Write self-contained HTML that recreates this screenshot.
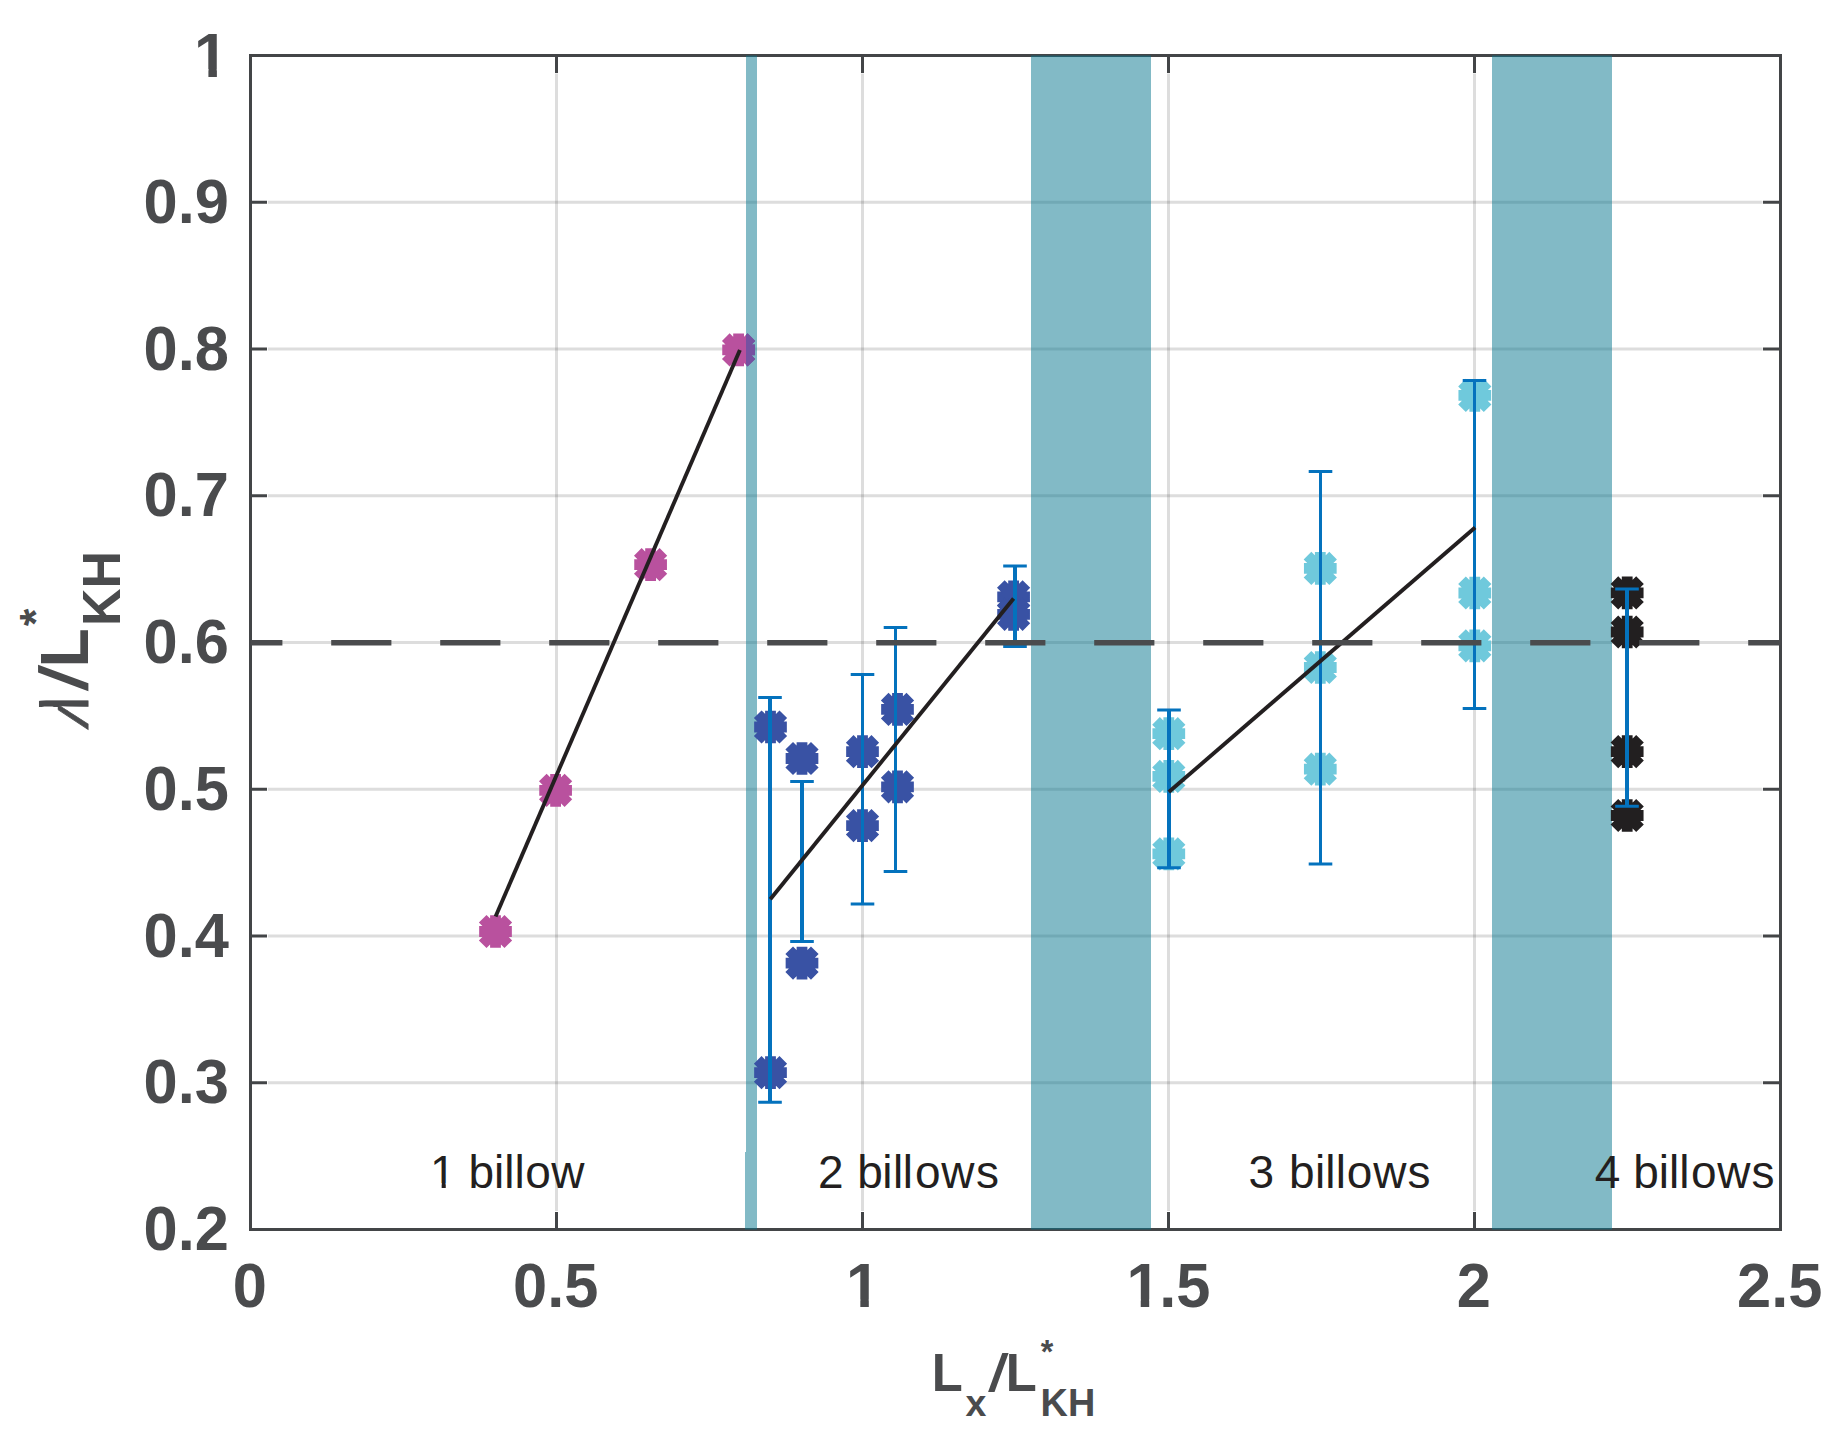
<!DOCTYPE html>
<html lang="en"><head><meta charset="utf-8"><title>Billow wavelength vs domain length</title>
<style>
html,body{margin:0;padding:0;background:#fff;}
body{width:1836px;height:1446px;overflow:hidden;}
svg{display:block;}
</style></head><body>
<svg width="1836" height="1446" viewBox="0 0 1836 1446" role="img" aria-label="Billow wavelength versus domain length">
<rect width="1836" height="1446" fill="#fff"/>
<defs>
<clipPath id="b1"><rect x="746" y="300" width="11" height="100"/></clipPath>
<clipPath id="c1"><path d="M-2 -41.40H25.07V-4.65H-2ZM11.55 -5.65H15.64V2H11.55ZM25.07 -41.40H230.00V13.80H25.07Z"/></clipPath>
<clipPath id="c2"><path d="M-2 -55.26H33.46V-7.46H-2ZM14.31 -8.46H22.78V2H14.31ZM33.46 -55.26H307.00V18.42H33.46Z"/></clipPath>
<clipPath id="lc"><path d="M-5 5H40V-30H-5ZM24.0 -30H40V-48.9H24.0Z"/></clipPath>
</defs>
<g stroke="#242424" stroke-opacity="0.155" stroke-width="3" fill="none">
<line x1="556.5" y1="73.6" x2="556.5" y2="1210.9"/>
<line x1="862.5" y1="73.6" x2="862.5" y2="1210.9"/>
<line x1="1168.5" y1="73.6" x2="1168.5" y2="1210.9"/>
<line x1="1474.5" y1="73.6" x2="1474.5" y2="1210.9"/>
<line x1="267.9" y1="202.25" x2="1761.9" y2="202.25"/>
<line x1="267.9" y1="349.00" x2="1761.9" y2="349.00"/>
<line x1="267.9" y1="495.75" x2="1761.9" y2="495.75"/>
<line x1="267.9" y1="642.50" x2="1761.9" y2="642.50"/>
<line x1="267.9" y1="789.25" x2="1761.9" y2="789.25"/>
<line x1="267.9" y1="936.00" x2="1761.9" y2="936.00"/>
<line x1="267.9" y1="1082.75" x2="1761.9" y2="1082.75"/>
</g>
<g stroke="#434547" stroke-width="3" fill="none" stroke-linecap="butt">
<rect x="250.5" y="55.5" width="1530.0" height="1174.0"/>
<path d="M556.5 1229.5V1212.1M556.5 55.5V72.9"/>
<path d="M862.5 1229.5V1212.1M862.5 55.5V72.9"/>
<path d="M1168.5 1229.5V1212.1M1168.5 55.5V72.9"/>
<path d="M1474.5 1229.5V1212.1M1474.5 55.5V72.9"/>
<path d="M250.5 202.25H267.0M1780.5 202.25H1762.9"/>
<path d="M250.5 349.00H267.0M1780.5 349.00H1762.9"/>
<path d="M250.5 495.75H267.0M1780.5 495.75H1762.9"/>
<path d="M250.5 642.50H267.0M1780.5 642.50H1762.9"/>
<path d="M250.5 789.25H267.0M1780.5 789.25H1762.9"/>
<path d="M250.5 936.00H267.0M1780.5 936.00H1762.9"/>
<path d="M250.5 1082.75H267.0M1780.5 1082.75H1762.9"/>
</g>
<g stroke="#b9519e" stroke-width="10.8" fill="none" stroke-linecap="butt">
<path d="M479.15 931.50h32.70M495.50 915.15v32.70M482.70 918.70l25.60 25.60M482.70 944.30l25.60 -25.60"/>
<path d="M539.25 790.30h32.70M555.60 773.95v32.70M542.80 777.50l25.60 25.60M542.80 803.10l25.60 -25.60"/>
<path d="M634.25 564.70h32.70M650.60 548.35v32.70M637.80 551.90l25.60 25.60M637.80 577.50l25.60 -25.60"/>
<path d="M722.25 349.90h32.70M738.60 333.55v32.70M725.80 337.10l25.60 25.60M725.80 362.70l25.60 -25.60"/>
</g>
<g fill="#05758d" fill-opacity="0.5">
<path d="M746 55.5H757V1229.5H745V1152H746Z"/>
<rect x="1031" y="55.5" width="120" height="1174"/>
<rect x="1492" y="55.5" width="120" height="1174"/>
</g>
<g stroke="#7651a1" stroke-width="10.8" fill="none" stroke-linecap="butt" clip-path="url(#b1)">
<path d="M722.25 349.90h32.70M738.60 333.55v32.70M725.80 337.10l25.60 25.60M725.80 362.70l25.60 -25.60"/>
</g>
<g stroke="#3952a4" stroke-width="10.8" fill="none" stroke-linecap="butt">
<path d="M754.15 727.00h32.70M770.50 710.65v32.70M757.70 714.20l25.60 25.60M757.70 739.80l25.60 -25.60"/>
<path d="M754.15 1072.70h32.70M770.50 1056.35v32.70M757.70 1059.90l25.60 25.60M757.70 1085.50l25.60 -25.60"/>
<path d="M785.65 758.50h32.70M802.00 742.15v32.70M789.20 745.70l25.60 25.60M789.20 771.30l25.60 -25.60"/>
<path d="M785.65 963.10h32.70M802.00 946.75v32.70M789.20 950.30l25.60 25.60M789.20 975.90l25.60 -25.60"/>
<path d="M846.15 751.70h32.70M862.50 735.35v32.70M849.70 738.90l25.60 25.60M849.70 764.50l25.60 -25.60"/>
<path d="M846.15 825.60h32.70M862.50 809.25v32.70M849.70 812.80l25.60 25.60M849.70 838.40l25.60 -25.60"/>
<path d="M881.15 709.40h32.70M897.50 693.05v32.70M884.70 696.60l25.60 25.60M884.70 722.20l25.60 -25.60"/>
<path d="M881.15 786.80h32.70M897.50 770.45v32.70M884.70 774.00l25.60 25.60M884.70 799.60l25.60 -25.60"/>
<path d="M997.25 596.80h32.70M1013.60 580.45v32.70M1000.80 584.00l25.60 25.60M1000.80 609.60l25.60 -25.60"/>
<path d="M997.25 614.30h32.70M1013.60 597.95v32.70M1000.80 601.50l25.60 25.60M1000.80 627.10l25.60 -25.60"/>
</g>
<g stroke="#6fc9dc" stroke-width="10.8" fill="none" stroke-linecap="butt">
<path d="M1152.45 733.70h32.70M1168.80 717.35v32.70M1156.00 720.90l25.60 25.60M1156.00 746.50l25.60 -25.60"/>
<path d="M1152.45 776.40h32.70M1168.80 760.05v32.70M1156.00 763.60l25.60 25.60M1156.00 789.20l25.60 -25.60"/>
<path d="M1152.45 853.80h32.70M1168.80 837.45v32.70M1156.00 841.00l25.60 25.60M1156.00 866.60l25.60 -25.60"/>
<path d="M1303.95 568.40h32.70M1320.30 552.05v32.70M1307.50 555.60l25.60 25.60M1307.50 581.20l25.60 -25.60"/>
<path d="M1303.95 667.50h32.70M1320.30 651.15v32.70M1307.50 654.70l25.60 25.60M1307.50 680.30l25.60 -25.60"/>
<path d="M1303.95 769.20h32.70M1320.30 752.85v32.70M1307.50 756.40l25.60 25.60M1307.50 782.00l25.60 -25.60"/>
<path d="M1458.45 395.40h32.70M1474.80 379.05v32.70M1462.00 382.60l25.60 25.60M1462.00 408.20l25.60 -25.60"/>
<path d="M1458.45 593.00h32.70M1474.80 576.65v32.70M1462.00 580.20l25.60 25.60M1462.00 605.80l25.60 -25.60"/>
<path d="M1458.45 645.80h32.70M1474.80 629.45v32.70M1462.00 633.00l25.60 25.60M1462.00 658.60l25.60 -25.60"/>
</g>
<g stroke="#221f20" stroke-width="10.8" fill="none" stroke-linecap="butt">
<path d="M1610.85 592.90h32.70M1627.20 576.55v32.70M1614.40 580.10l25.60 25.60M1614.40 605.70l25.60 -25.60"/>
<path d="M1610.85 632.00h32.70M1627.20 615.65v32.70M1614.40 619.20l25.60 25.60M1614.40 644.80l25.60 -25.60"/>
<path d="M1610.85 751.60h32.70M1627.20 735.25v32.70M1614.40 738.80l25.60 25.60M1614.40 764.40l25.60 -25.60"/>
<path d="M1610.85 815.50h32.70M1627.20 799.15v32.70M1614.40 802.70l25.60 25.60M1614.40 828.30l25.60 -25.60"/>
</g>
<g stroke="#0472bd" stroke-width="3" fill="none" stroke-linecap="butt">
<path d="M770.0 697.5V1102.2" stroke-width="4"/>
<path d="M758.2 697.5H781.8M758.2 1102.2H781.8"/>
<path d="M802.0 781.5V941.4" stroke-width="4"/>
<path d="M790.2 781.5H813.8M790.2 941.4H813.8"/>
<path d="M862.5 674.5V904.0" stroke-width="3"/>
<path d="M850.7 674.5H874.3M850.7 904.0H874.3"/>
<path d="M895.5 627.6V871.5" stroke-width="3"/>
<path d="M883.7 627.6H907.3M883.7 871.5H907.3"/>
<path d="M1015.0 566.0V646.4" stroke-width="4"/>
<path d="M1003.2 566.0H1026.8M1003.2 646.4H1026.8"/>
<path d="M1169.0 710.0V867.7" stroke-width="4"/>
<path d="M1157.2 710.0H1180.8M1157.2 867.7H1180.8"/>
<path d="M1320.5 471.4V864.0" stroke-width="3"/>
<path d="M1308.7 471.4H1332.3M1308.7 864.0H1332.3"/>
<path d="M1474.5 380.4V708.5" stroke-width="3"/>
<path d="M1462.7 380.4H1486.3M1462.7 708.5H1486.3"/>
<path d="M1627.0 588.9V806.2" stroke-width="4"/>
<path d="M1615.2 588.9H1638.8M1615.2 806.2H1638.8"/>
</g>
<g stroke="#231f20" stroke-width="3.9" fill="none" stroke-linecap="butt">
<line x1="495.6" y1="916.5" x2="739.9" y2="350.1"/>
<line x1="770.3" y1="899.2" x2="1013.6" y2="598.6"/>
<line x1="1168.8" y1="792.1" x2="1475.1" y2="527.5"/>
</g>
<line x1="250.5" y1="642.80" x2="1780.5" y2="642.80" stroke="#4a4b4d" stroke-width="5.6" stroke-dasharray="60.2 48.8" stroke-dashoffset="28.3"/>
<g font-family='"Liberation Sans",Arial,Helvetica,sans-serif' font-size="46" fill="#231f20">
<text transform="translate(430.1 1188)" clip-path="url(#c1)" dx="0 0 0 0 0 0 0.6 0.3">1 billow</text>
<text x="818" y="1188" dx="0 0 0.8 -0.6 0.6 -0.6 2.1 0.7 1.6">2 billows</text>
<text x="1248.4" y="1188" dx="0 0 2.3 0.3 0 0.4 0.8 0.8 1.0">3 billows</text>
<text x="1594.8" y="1188" dx="0 0 0 0 0 0 1.5 0.7 1.0">4 billows</text>
</g>
<g font-family='"Liberation Sans",Arial,Helvetica,sans-serif' font-size="61.4" font-weight="700" fill="#4a4b4d">
<text transform="translate(143.60 222.95) scale(1 1.03)">0.9</text>
<text transform="translate(143.60 369.70) scale(1 1.03)">0.8</text>
<text transform="translate(143.60 516.45) scale(1 1.03)">0.7</text>
<text transform="translate(143.60 663.20) scale(1 1.03)">0.6</text>
<text transform="translate(143.60 809.95) scale(1 1.03)">0.5</text>
<text transform="translate(143.60 956.70) scale(1 1.03)">0.4</text>
<text transform="translate(143.60 1103.45) scale(1 1.03)">0.3</text>
<text transform="translate(143.60 1250.20) scale(1 1.03)">0.2</text>
<text transform="translate(194.10 76.80) scale(1 1.03)" clip-path="url(#c2)">1</text>
<text transform="translate(232.72 1307.20) scale(1 1.03)">0</text>
<text transform="translate(513.12 1307.20) scale(1 1.03)">0.5</text>
<text transform="translate(846.02 1307.20) scale(1 1.03)" clip-path="url(#c2)">1</text>
<text transform="translate(1126.42 1307.20) scale(1 1.03)" clip-path="url(#c2)" dx="0 -1.3">1.5</text>
<text transform="translate(1456.72 1307.20) scale(1 1.03)">2</text>
<text transform="translate(1737.12 1307.20) scale(1 1.03)">2.5</text>
</g>
<g font-family='"Liberation Sans",Arial,Helvetica,sans-serif' font-weight="700" fill="#4a4b4d">
<text transform="translate(931.7 1391) scale(0.977 1.035)" font-size="52">L</text>
<text x="965.6" y="1415.8" font-size="37.5">x</text>
<text transform="translate(987.8 1390.5) scale(1.04 1.01) skewX(-9.2)" font-size="52">/</text>
<text transform="translate(1005.8 1391) scale(0.977 1.035)" font-size="52">L</text>
<text x="1040.8" y="1363.1" font-size="32.3">*</text>
<text transform="translate(1040.6 1415.8) scale(1 1.035)" font-size="37.9">KH</text>
</g>
<g font-family='"Liberation Sans",Arial,Helvetica,sans-serif' font-weight="700" fill="#4a4b4d" transform="translate(87.8 731) rotate(-90)">
<g clip-path="url(#lc)"><text transform="translate(1.3 0) scale(0.905 1.15) skewX(-20.5)" font-size="65" font-weight="400" stroke="#4a4b4d" stroke-width="0.9">λ</text></g>
<text transform="translate(39.3 -1) scale(1.04 1.04) skewX(-10.4)" font-size="65">/</text>
<text transform="translate(63.6 0) scale(0.985 1.055)" font-size="65">L</text>
<text x="105.1" y="-37" font-size="44.7">*</text>
<text transform="translate(104.9 32.3) scale(1 1.04)" font-size="52">KH</text>
</g>
</svg></body></html>
